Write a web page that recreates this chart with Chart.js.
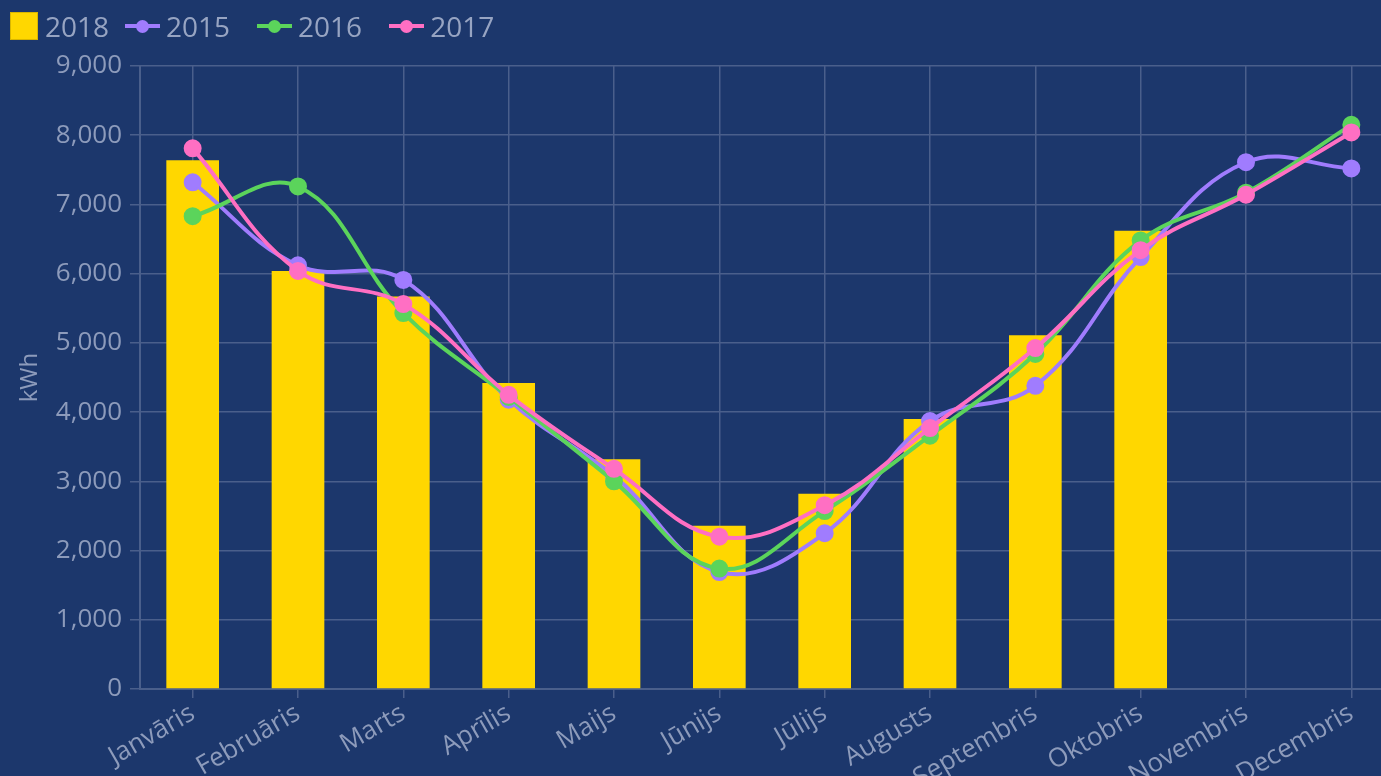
<!DOCTYPE html>
<html lang="lv">
<head>
<meta charset="utf-8">
<title>Saražotā enerģija pa mēnešiem</title>
<script src="https://cdn.jsdelivr.net/npm/chart.js@4.4.1/dist/chart.umd.min.js"></script>
<style>
  html, body {
    margin: 0;
    padding: 0;
    background: #1c376c;
    overflow: hidden;
  }
  #wrap {
    position: relative;
    width: 1414px;
    height: 800px;
  }
  #chartEnergija {
    position: absolute;
    left: 0;
    top: 0;
  }
  #legendaEnergija {
    position: absolute;
    left: 10px;
    top: 10px;
    margin: 0;
    padding: 0;
    list-style: none;
    display: flex;
    align-items: center;
    font-family: "Open Sans", sans-serif;
    font-size: 28px;
    line-height: 32px;
    color: #97a4c2;
  }
  #legendaEnergija li {
    display: flex;
    align-items: center;
    margin-right: 27px;
  }
  #legendaEnergija li.stabins {
    margin-right: 16px;
  }
  #legendaEnergija .kvadrats {
    width: 28px;
    height: 28px;
    box-sizing: border-box;
    border: 1px solid #d9b600;
    margin-right: 7px;
  }
  #legendaEnergija .linija {
    position: relative;
    width: 35px;
    height: 4px;
    margin-right: 6px;
  }
  #legendaEnergija .linija::after {
    content: "";
    position: absolute;
    left: 11px;
    top: -4.5px;
    width: 13px;
    height: 13px;
    border-radius: 50%;
    background: inherit;
  }
</style>
</head>
<body>
<div id="wrap">
  <canvas id="chartEnergija" width="1414" height="800"></canvas>
  <ul id="legendaEnergija"></ul>
</div>

<script>
/* global Chart */

// Mēneši uz X ass
var menesi = [
  "Janvāris", "Februāris", "Marts", "Aprīlis", "Maijs", "Jūnijs",
  "Jūlijs", "Augusts", "Septembris", "Oktobris", "Novembris", "Decembris"
];

// Saražotā enerģija, kWh
var gads2018 = [7640, 6040, 5670, 4420, 3320, 2360, 2820, 3900, 5110, 6620, null, null];
var gads2015 = [7320, 6120, 5910, 4180, 3080, 1690, 2250, 3870, 4380, 6240, 7610, 7520];
var gads2016 = [6830, 7260, 5430, 4220, 3000, 1740, 2570, 3660, 4840, 6480, 7170, 8150];
var gads2017 = [7810, 6040, 5560, 4250, 3180, 2200, 2655, 3770, 4925, 6340, 7140, 8040];

// Y ass robežas
var yMin = 0;
var yMax = 9000;
var ySolis = 1000;

var FONTS = '"Open Sans", sans-serif';
var TEKSTA_KRASA = "#8d9bbb";
var REZGA_KRASA = "#4a5f8b";

// HTML leģenda (no Chart.js leģendas elementiem, datu kopu secībā)
var htmlLegenda = {
  id: "htmlLegenda",
  afterUpdate: function (chart) {
    var ul = document.getElementById("legendaEnergija");
    if (!ul) {
      return;
    }
    ul.innerHTML = "";

    var items = chart.options.plugins.legend.labels.generateLabels(chart);
    items.sort(function (a, b) {
      return a.datasetIndex - b.datasetIndex;
    });

    items.forEach(function (item) {
      var ds = chart.data.datasets[item.datasetIndex];
      var li = document.createElement("li");
      var ikona = document.createElement("span");

      if (ds.type === "bar") {
        li.classList.add("stabins");
        ikona.className = "kvadrats";
        ikona.style.background = ds.backgroundColor;
      } else {
        ikona.className = "linija";
        ikona.style.background = ds.borderColor;
      }

      var teksts = document.createElement("span");
      teksts.textContent = item.text;

      li.appendChild(ikona);
      li.appendChild(teksts);
      ul.appendChild(li);
    });
  }
};

function linija(nosaukums, dati, krasa, kartiba) {
  return {
    type: "line",
    label: nosaukums,
    data: dati,
    borderColor: krasa,
    backgroundColor: krasa,
    borderWidth: 4,
    pointRadius: 8,
    pointBorderWidth: 2,
    pointBackgroundColor: krasa,
    pointBorderColor: krasa,
    tension: 0.4,
    fill: false,
    order: kartiba
  };
}

document.addEventListener("DOMContentLoaded", function () {
  var canvas = document.getElementById("chartEnergija");
  if (!canvas) {
    console.warn("canvas nav atrasts");
    return;
  }

  new Chart(canvas.getContext("2d"), {
    type: "bar",
    data: {
      labels: menesi,
      datasets: [
        {
          type: "bar",
          label: "2018",
          data: gads2018,
          backgroundColor: "#ffd700",
          borderWidth: 0,
          barPercentage: 0.5,
          categoryPercentage: 1,
          order: 4
        },
        linija("2015", gads2015, "#a07cfe", 3),
        linija("2016", gads2016, "#5bd45b", 2),
        linija("2017", gads2017, "#ff6fc3", 1)
      ]
    },
    options: {
      responsive: false,
      devicePixelRatio: 1,
      animation: false,
      locale: "en-US",
      layout: {
        padding: { top: 66, right: 5, bottom: 0, left: 0 }
      },
      plugins: {
        legend: { display: false },
        tooltip: { enabled: false }
      },
      scales: {
        x: {
          offset: true,
          grid: {
            offset: false,
            color: REZGA_KRASA,
            lineWidth: 1.5,
            tickLength: 9
          },
          border: { color: REZGA_KRASA, width: 2 },
          ticks: {
            color: TEKSTA_KRASA,
            font: { family: FONTS, size: 26 },
            minRotation: 30,
            maxRotation: 30,
            autoSkip: false,
            padding: 0
          },
          afterFit: function (scale) {
            scale.height = 111;
          }
        },
        y: {
          min: yMin,
          max: yMax,
          grid: {
            color: REZGA_KRASA,
            lineWidth: 1.5,
            tickLength: 10
          },
          border: { color: REZGA_KRASA, width: 2 },
          ticks: {
            stepSize: ySolis,
            color: TEKSTA_KRASA,
            font: { family: FONTS, size: 26 },
            padding: 8
          },
          title: {
            display: true,
            text: "kWh",
            color: TEKSTA_KRASA,
            font: { family: FONTS, size: 24 },
            padding: { top: 16, bottom: 0 }
          },
          afterFit: function (scale) {
            scale.width = 140;
          }
        }
      }
    },
    plugins: [htmlLegenda]
  });
});
</script>
</body>
</html>
